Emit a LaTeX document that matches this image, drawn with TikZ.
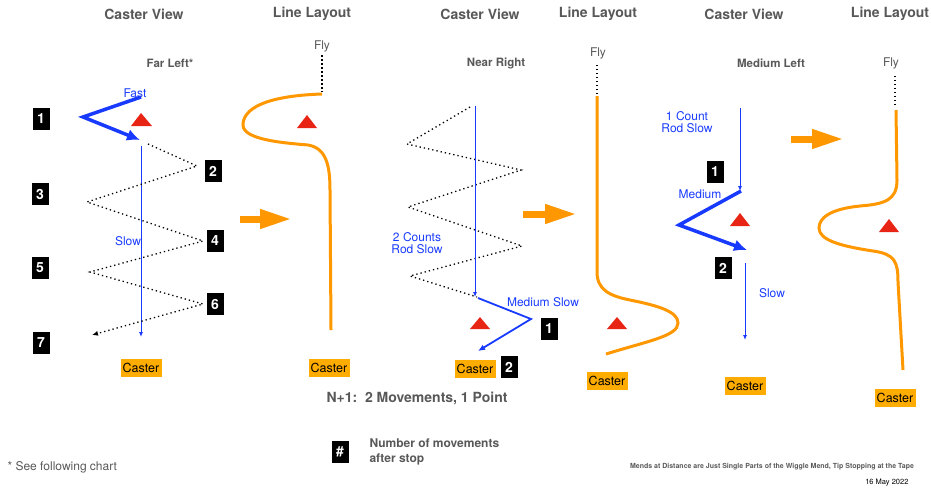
\documentclass[tikz,border=0pt]{standalone}
\usepackage{fontspec}
\setmainfont{TeX Gyre Heros}
\usetikzlibrary{arrows.meta}
\definecolor{txtgray}{RGB}{88,88,88}
\definecolor{moveblue}{RGB}{24,58,255}
\definecolor{lineorange}{RGB}{255,152,0}
\definecolor{casterfill}{RGB}{255,172,0}
\definecolor{tipred}{RGB}{232,36,20}

\begin{document}
\begin{tikzpicture}[x=1pt,y=-1pt,
  title/.style={text=txtgray,font=\bfseries\fontsize{14}{16}\selectfont},
  view/.style={text=txtgray,font=\bfseries\fontsize{11.5}{13}\selectfont},
  fly/.style={text=txtgray,font=\fontsize{12}{14}\selectfont},
  move/.style={text=moveblue,font=\fontsize{12}{14}\selectfont,align=center},
  numbox/.style={fill=black,text=white,font=\bfseries\fontsize{14}{16}\selectfont,minimum width=17pt,minimum height=22pt,inner sep=0pt},
  caster/.style={fill=casterfill,font=\fontsize{12.5}{14}\selectfont,minimum width=41pt,minimum height=18pt,inner sep=0pt},
  tip/.style={fill=tipred},
  flyline/.style={line width=1.3pt,dash pattern=on 1.3pt off 2.7pt},
  zigzag/.style={line width=1.3pt,dash pattern=on 1.3pt off 3pt,-{Latex[length=6pt,width=5pt]}},
  mend/.style={lineorange,line width=3pt},
  fast/.style={moveblue,line width=3.5pt,-{Latex[length=13pt,width=12pt]}},
  rod/.style={moveblue,line width=0.9pt,-{Latex[length=5pt,width=4pt]}},
  turn/.style={moveblue,line width=1.8pt,-{Latex[length=7pt,width=6pt]}},
  becomes/.style={lineorange,line width=7pt,-{Triangle[length=32pt,width=18pt]}}]
  \useasboundingbox (0,0) rectangle (931,491);

  % far left
  \node[title] (viewA) at (144,14) {Caster View};
  \node[title] (layoutA) at (312,14) {Line Layout};
  \node[view] (castA) at (170,63) {Far Left*};
  \node[fly] (flyA) at (322,46) {Fly};
  \draw[flyline] (flyA.south) -- (322,92);
  \draw[mend] (322,94) .. controls (262,96) and (243,110) .. (243,125)
    .. controls (243,140) and (285,143) .. (308,145)
    .. controls (326,148) and (330,165) .. (330,190) -- (331,330);
  \draw[fast] (141,97) -- (83,117) -- (140,140);
  \node[move] (fastA) at (135,93) {Fast};
  \draw[rod] (141,146) -- (141,337);
  \node[move] (slowA) at (128,241) {Slow};
  \draw[zigzag] (148,144) -- (197,166) -- (87,202) -- (203,241) -- (90,272) -- (203,304) -- (92,335);
  \fill[tip] (131,126) -- (141,113) -- (152,126) -- cycle;
  \fill[tip] (297,128) -- (307,115) -- (317,128) -- cycle;
  \node[numbox] (a1) at (41,119) {1};
  \node[numbox] (a2) at (213,171) {2};
  \node[numbox] (a3) at (40,194) {3};
  \node[numbox] (a4) at (215,241) {4};
  \node[numbox] (a5) at (40,268) {5};
  \node[numbox] (a6) at (215,304) {6};
  \node[numbox] (a7) at (41,343) {7};
  \node[caster] (casterA) at (141,368) {Caster};
  \node[caster] (lineA) at (329,368) {Caster};
  \draw[becomes] (240,219) -- (292,219);

  % near right
  \node[title] (viewB) at (480,14) {Caster View};
  \node[title] (layoutB) at (598,14) {Line Layout};
  \node[view] (castB) at (496,63) {Near Right};
  \node[fly] (flyB) at (598,53) {Fly};
  \draw[flyline] (597,65) -- (597,95);
  \draw[mend] (597,96) -- (597,272) .. controls (597,290) and (610,296) .. (630,300)
    .. controls (660,306) and (678,312) .. (678,323)
    .. controls (678,336) and (648,341) .. (606,354);
  \draw[zigzag,-] (470,107) -- (407,144) -- (521,170) -- (408,207) -- (522,246) -- (410,276) -- (477,297);
  \draw[rod] (475,106) -- (475,297);
  \node[move] (rodB) at (417,243) {2 Counts\\[-2pt]Rod Slow};
  \draw[turn] (478,298) -- (531,319) -- (478,351);
  \node[move] (slowB) at (543,302) {Medium Slow};
  \fill[tip] (470,329) -- (480,317) -- (490,329) -- cycle;
  \fill[tip] (607,329) -- (617,317) -- (627,329) -- cycle;
  \node[numbox] (b1) at (549,329) {1};
  \node[caster] (casterB) at (475,369) {Caster};
  \node[numbox] (b2) at (509,367) {2};
  \node[caster] (lineB) at (607,381) {Caster};
  \draw[becomes] (523,214) -- (577,214);

  % medium left
  \node[title] (viewC) at (744,14) {Caster View};
  \node[title] (layoutC) at (890,14) {Line Layout};
  \node[view] (castC) at (771,63) {Medium Left};
  \node[fly] (flyC) at (891,63) {Fly};
  \draw[flyline] (895,76) -- (895,107);
  \draw[mend] (896,110) -- (897,180) .. controls (897,200) and (885,204) .. (860,206)
    .. controls (830,209) and (819,218) .. (819,228)
    .. controls (819,240) and (840,246) .. (873,251)
    .. controls (895,254) and (898,262) .. (898,282) -- (903,370);
  \draw[rod] (740,108) -- (740,191);
  \node[move] (rodC) at (687,122) {1 Count\\[-2pt]Rod Slow};
  \node[numbox] (c1) at (715,172) {1};
  \node[move] (medC) at (700,194) {Medium};
  \draw[fast] (741,191) -- (679,225) -- (747,250);
  \fill[tip] (730,226) -- (740,213) -- (750,226) -- cycle;
  \fill[tip] (879,232) -- (889,219) -- (899,232) -- cycle;
  \node[numbox] (c2) at (723,268) {2};
  \draw[rod] (745,263) -- (745,340);
  \node[move] (slowC) at (772,293) {Slow};
  \node[caster] (casterC) at (745,386) {Caster};
  \node[caster] (lineC) at (895,398) {Caster};
  \draw[becomes] (791,139) -- (844,139);

  \node[title] (rule) at (417,398) {N+1:\ \ 2 Movements, 1 Point};
  \node[numbox] (key) at (340,452) {\#};
  \node[anchor=west,align=left,text=txtgray,font=\bfseries\fontsize{12}{15}\selectfont] (keytext) at (366,452) {Number of movements\\after stop};
  \node[anchor=west,text=txtgray,font=\fontsize{12}{14}\selectfont] (note) at (4,467) {* See following chart};
  \node[text=txtgray,font=\bfseries\fontsize{7}{8}\selectfont] (footer) at (772,467) {Mends at Distance are Just Single Parts of the Wiggle Mend, Tip Stopping at the Tape};
  \node[anchor=east,font=\fontsize{7.5}{9}\selectfont] (date) at (912,483) {16 May 2022};
\end{tikzpicture}
\end{document}
